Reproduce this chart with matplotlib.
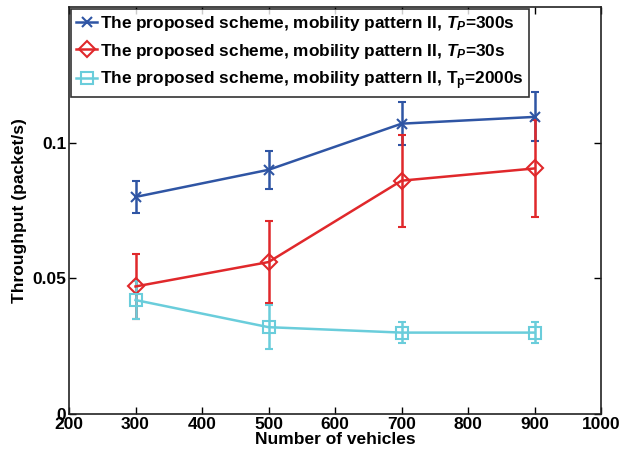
import matplotlib
matplotlib.use("Agg")
import matplotlib.pyplot as plt

plt.rcParams['font.family'] = ['Liberation Sans', 'DejaVu Sans']
plt.rcParams['font.weight'] = 'bold'
plt.rcParams['mathtext.fontset'] = 'custom'
plt.rcParams['mathtext.it'] = 'Liberation Sans:italic:bold'
plt.rcParams['mathtext.rm'] = 'Liberation Sans:bold'
plt.rcParams['mathtext.bf'] = 'Liberation Sans:bold'

vehicles = [300, 500, 700, 900]
tp300 = [0.080, 0.090, 0.107, 0.1095]
tp300_err = [0.006, 0.007, 0.008, 0.009]
tp30 = [0.047, 0.056, 0.086, 0.0905]
tp30_err = [0.012, 0.015, 0.017, 0.018]
tp2000 = [0.042, 0.032, 0.030, 0.030]
tp2000_err = [0.007, 0.008, 0.004, 0.004]

labels = [
    r'The proposed scheme, mobility pattern II, $T_P$=300s',
    r'The proposed scheme, mobility pattern II, $T_P$=30s',
    r'The proposed scheme, mobility pattern II, T$_\mathrm{p}$=2000s',
]
colors = ['#2F55A4', '#E0282B', '#6ACDDB']

fig = plt.figure(figsize=(6.19, 4.55), dpi=100)
ax = fig.add_axes([0.1115, 0.0901, 0.8595, 0.8945])

c1 = ax.errorbar(vehicles, tp300, yerr=tp300_err, color=colors[0], marker='x',
                 markersize=7, mew=1.5, lw=1.8, capsize=3, elinewidth=1.8,
                 capthick=1.8)
c2 = ax.errorbar(vehicles, tp30, yerr=tp30_err, color=colors[1], marker='D',
                 markersize=8, mfc='none', mew=1.5, lw=1.8, capsize=3,
                 elinewidth=1.8, capthick=1.8)
c3 = ax.errorbar(vehicles, tp2000, yerr=tp2000_err, color=colors[2], marker='s',
                 markersize=8, mfc='none', mew=1.5, lw=1.8, capsize=3,
                 elinewidth=1.8, capthick=1.8)

ax.set_xlim(200, 1000)
ax.set_ylim(0, 0.15)
ax.set_xticks([200, 300, 400, 500, 600, 700, 800, 900, 1000])
ax.set_yticks([0, 0.05, 0.1])
ax.set_yticklabels(['0', '0.05', '0.1'])
ax.tick_params(direction='in', top=True, right=True, labelsize=12.5, length=5,
               width=1, pad=2)
for lab in ax.get_xticklabels() + ax.get_yticklabels():
    lab.set_fontweight('bold')
for s in ax.spines.values():
    s.set_linewidth(1.2)
    s.set_color('#222222')

ax.set_xlabel('Number of vehicles', fontsize=12.5, fontweight='bold', labelpad=0)
ax.set_ylabel('Throughput (packet/s)', fontsize=12.5, fontweight='bold', labelpad=4)

leg = ax.legend(handles=[c1[0], c2[0], c3[0]], labels=labels, loc='upper left',
                frameon=True, fancybox=False, edgecolor='black', borderpad=0.3,
                labelspacing=0.5, handlelength=1.25, handletextpad=0.15,
                borderaxespad=0.1, prop={'weight': 'bold', 'size': 12.4})
leg.get_frame().set_linewidth(1.2)

fig.savefig('out.png', dpi=100)
